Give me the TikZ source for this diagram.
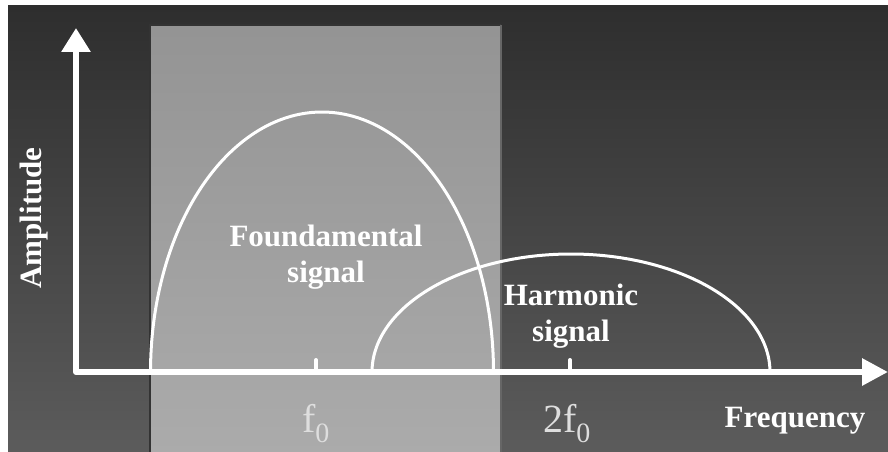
\documentclass[tikz,border=0pt]{standalone}
\usepackage{fontspec}
\setmainfont{Liberation Serif}
\usetikzlibrary{arrows.meta}

\begin{document}
\begin{tikzpicture}[x=1pt, y=-1pt,
  lbl/.style={font=\fontsize{31}{36}\selectfont\bfseries, text=white, inner sep=0pt, align=center},
  freqlbl/.style={font=\fontsize{40}{42}\selectfont, text=black!13, inner sep=0pt},
  axis/.style={draw=white, line width=6pt, line join=round, line cap=round},
  spectrum/.style={draw=white, line width=3pt},
  bump/.style={draw=white, line width=4pt, line cap=round}
]
\useasboundingbox (0,0) rectangle (888,452);

% background and pass band
\fill[white] (0,0) rectangle (888,452);
\shade[top color=black!82, bottom color=black!64] (8,6) rectangle (888,452);
\shade[top color=black!42, bottom color=black!33] (151,25) rectangle (500,452);
\draw[black!80, line width=1.5pt] (150,452) -- (150,25) -- (500,25);
\draw[black!60, line width=2pt] (501,25) -- (501,452);

% spectra
\draw[spectrum] plot[domain=180:360, samples=80, smooth] ({322+171.5*cos(\x)}, {372+260*sin(\x)});
\draw[spectrum] plot[domain=180:360, samples=80, smooth] ({571+199*cos(\x)}, {372+118*sin(\x)});

% axes
\coordinate (origin) at (76,372);
\coordinate (ytip) at (76,28);
\coordinate (xtip) at (888,372);
\coordinate (fzero) at (316,372);
\coordinate (ftwo) at (570,372);
\draw[axis, {Triangle[length=24pt,width=28pt]}-{Triangle[length=26pt,width=26pt]}] (ytip) -- (origin) -- (xtip);
\draw[bump] (fzero) -- ++(0,-12);
\draw[bump] (ftwo) -- ++(0,-12);

\node[freqlbl, anchor=base] (lfzero) at (316,432) {f\textsubscript{0}};
\node[freqlbl, anchor=base] (lftwo) at (567,432) {2f\textsubscript{0}};
\node[lbl, rotate=90] (ylab) at (34,218) {Amplitude};
\node[lbl, anchor=base] (xlab) at (795,427) {Frequency};
\node[lbl] (fundlab) at (326,257) {Foundamental\\signal};
\node[lbl] (harmlab) at (571,316) {Harmonic\\signal};

\end{tikzpicture}
\end{document}
